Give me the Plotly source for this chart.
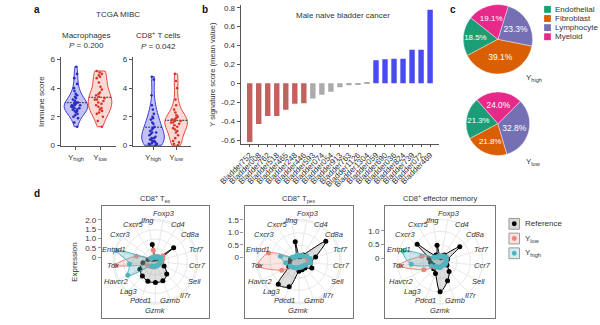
import math
import plotly.graph_objects as go

W, H = 600, 325
def fx(px): return px / W
def fy(py): return 1 - py / H

FONT = "Liberation Sans, Arial, sans-serif"
TXT = "#333333"
AX = "#555555"

# ---------------- panel a data ----------------
groups = ["Y<sub>high</sub>", "Y<sub>low</sub>"]
mac_high = [1.3, 1.6, 1.9, 2.0, 2.1, 2.2, 2.3, 2.4, 2.4, 2.5, 2.5, 2.6, 2.6, 2.7, 2.7, 2.8, 2.8,
            2.8, 2.9, 2.9, 3.0, 3.0, 3.1, 3.2, 3.3, 3.4, 3.5, 3.6, 3.8, 4.0, 4.3, 4.7, 5.0, 5.5]
mac_low = [1.3, 1.7, 2.0, 2.2, 2.3, 2.4, 2.5, 2.6, 2.7, 2.8, 2.9, 3.0, 3.1, 3.2, 3.2, 3.3, 3.4,
           3.5, 3.6, 3.7, 3.9, 4.1, 4.4, 4.7, 4.8, 4.9, 5.0, 5.1, 5.2]
cd8_high = [0.0, 0.05, 0.1, 0.1, 0.15, 0.2, 0.25, 0.3, 0.35, 0.4, 0.5, 0.5, 0.6, 0.7, 0.8, 0.9,
            0.9, 1.0, 1.1, 1.2, 1.3, 1.5, 1.6, 1.8, 1.9, 2.0, 2.2, 2.5, 2.8, 3.5, 4.6, 4.8]
cd8_low = [0.0, 0.1, 0.2, 0.3, 0.5, 0.7, 0.9, 1.0, 1.1, 1.2, 1.3, 1.4, 1.5, 1.6, 1.6, 1.7, 1.7,
           1.8, 1.8, 1.9, 2.0, 2.1, 2.3, 2.5, 2.8, 3.2, 4.0, 4.5, 5.0]
immune_ticks = [0, 2, 4, 6]

# ---------------- panel b data ----------------
samples = ["Bladder752", "Bladder008", "Bladder762", "Bladder518", "Bladder465", "Bladder248",
           "Bladder446", "Bladder593", "Bladder074", "Bladder054", "Bladder913", "Bladder763",
           "Bladder1126", "Bladder1304", "Bladder059", "Bladder690", "Bladder036", "Bladder824",
           "Bladder739", "Bladder072", "Bladder469"]
y_scores = [-0.62, -0.43, -0.345, -0.345, -0.28, -0.215, -0.21, -0.16, -0.12, -0.09, -0.04,
            -0.02, -0.01, 0.005, 0.245, 0.255, 0.26, 0.26, 0.355, 0.355, 0.78]
sample_group = ["low"] * 7 + ["mid"] * 7 + ["high"] * 7
score_ticks = [-0.6, -0.4, -0.2, 0, 0.2, 0.4, 0.6, 0.8]

# ---------------- panel c data ----------------
cell_types = ["Endothelial", "Fibroblast", "Lymphocyte", "Myeloid"]
pie_high = [18.5, 39.1, 23.3, 19.1]
pie_low = [21.3, 21.8, 32.8, 24.0]
pie_colors = ["#1b9e77", "#d95f02", "#7570b3", "#e7298a"]

# ---------------- panel d data ----------------
genes = ["Foxp3", "Cd4", "Cd8a", "Tcf7", "Ccr7", "Sell", "Il7r", "Gzmb", "Gzmk", "Pdcd1",
         "Lag3", "Havcr2", "Tox", "Entpd1", "Cxcr3", "Cxcr5", "Ifng"]
tex_ref = [-0.08, -0.03, 1.01, 0.02, 0.08, 0.29, 0.68, 0.89, 0.90, 0.91, 0.82, 0.71, 0.45, 0.18, -0.03, -0.08, 0.71]
tex_low = [0.02, 0.08, 0.29, 0.18, 0.08, 0.02, 0.0, 0.0, 0.02, 0.08, 0.13, 0.24, 1.98, 0.85, 0.08, 0.02, 0.39]
tex_high = [0.02, 0.05, 0.13, 0.05, 0.02, 0.0, 0.0, 0.0, 0.02, 0.05, 0.08, 1.45, 1.19, 1.98, 0.05, 0.02, 0.05]
tpex_ref = [0.02, 0.14, 1.20, 0.53, 0.30, 0.41, 0.18, 0.18, 0.22, 0.93, 1.08, 0.29, 0.22, 0.18, 0.10, 0.06, 0.65]
tpex_low = [0.06, 0.10, 0.14, 0.18, 0.22, 0.10, 0.06, 0.06, 0.06, 0.10, 0.14, 0.61, 1.50, 1.12, 0.10, 0.06, 0.10]
tpex_high = [0.06, 0.10, 0.22, 0.30, 0.30, 0.14, 0.06, 0.06, 0.06, 0.10, 0.14, 0.22, 0.37, 0.61, 0.14, 0.06, 0.10]
em_ref = [0.02, 0.16, 0.79, 0.16, 0.09, 0.16, 0.37, 0.64, 0.99, 0.35, 0.23, 0.16, 0.23, 0.30, 0.94, 0.16, 0.49]
em_low = [0.09, 0.09, 0.16, 0.09, 0.09, 0.05, 0.05, 0.05, 0.09, 0.09, 0.16, 0.55, 1.40, 0.59, 0.09, 0.05, 0.09]
em_high = [0.09, 0.12, 0.16, 0.12, 0.09, 0.09, 0.05, 0.05, 0.09, 0.09, 0.12, 0.23, 0.95, 1.30, 0.16, 0.09, 0.09]
expr_ticks = [0, 0.5, 1.0, 1.5, 2.0]

fig = go.Figure()

# ---------------- panel a ----------------
vstyle = {
    "high": dict(line="#3b3bd6", fill="rgba(120,120,240,0.45)", pt="#2a2ac0"),
    "low": dict(line="#e2493e", fill="rgba(246,172,162,0.45)", pt="#d9342a"),
}
for (vals, g, key, xa, ya) in [
    (mac_high, groups[0], "high", "x", "y"), (mac_low, groups[1], "low", "x", "y"),
    (cd8_high, groups[0], "high", "x2", "y2"), (cd8_low, groups[1], "low", "x2", "y2")]:
    st = vstyle[key]
    fig.add_trace(go.Violin(
        x=[g] * len(vals), y=vals, xaxis=xa, yaxis=ya, showlegend=False,
        line=dict(color=st["line"], width=1), fillcolor=st["fill"],
        points="all", pointpos=0, jitter=0.45, marker=dict(color=st["pt"], size=2.6),
        meanline=dict(visible=True, color="#333333", width=1), spanmode="hard",
        width=0.98, scalemode="width", hoverinfo="skip"))

# ---------------- panel b ----------------
bar_cols = {"low": "#c2625f", "mid": "#ababab", "high": "#4a4af2"}
fig.add_trace(go.Bar(x=samples, y=y_scores, xaxis="x3", yaxis="y3", showlegend=False,
                     marker=dict(color=[bar_cols[g] for g in sample_group], line=dict(width=0)),
                     width=0.6))

# ---------------- panel c ----------------
for vals, dom in [(pie_high, dict(x=[fx(458), fx(530)], y=[fy(74), fy(2)])),
                  (pie_low, dict(x=[fx(461), fx(527)], y=[fy(157), fy(91)]))]:
    fig.add_trace(go.Pie(labels=cell_types, values=vals, sort=False, direction="counterclockwise",
                         rotation=242, domain=dom, showlegend=False,
                         marker=dict(colors=pie_colors, line=dict(color="white", width=0.4)),
                         text=[f"{v:.1f}%" for v in vals], textinfo="text",
                         textposition="inside", insidetextorientation="horizontal",
                         textfont=dict(color="white", size=8.5, family=FONT)))

# ---------------- panel d ----------------
series_style = [
    ("Reference", "#000000", "rgba(150,150,150,0.3)", "#d9d9d9"),
    ("Y<sub>low</sub>", "#e8857d", "rgba(240,150,140,0.25)", "#fbe2df"),
    ("Y<sub>high</sub>", "#4fb5c0", "rgba(90,190,200,0.30)", "#d3eef1"),
]
panels = [
    dict(sub="polar", data=[tex_ref, tex_low, tex_high], rmin=-0.24, s=18.94, cx=138.5, box=(83, 194),
         xa="x4", ya="y4", title="CD8<sup>+</sup> T<sub>ex</sub>", ticks=expr_ticks, ytitle="Expression"),
    dict(sub="polar2", data=[tpex_ref, tpex_low, tpex_high], rmin=-0.18, s=25.3, cx=287.5, box=(231, 344),
         xa="x5", ya="y5", title="CD8<sup>+</sup> T<sub>pex</sub>", ticks=expr_ticks[:4], ytitle=""),
    dict(sub="polar3", data=[em_ref, em_low, em_high], rmin=-0.125, s=28.0, cx=434, box=(377, 491),
         xa="x6", ya="y6", title="CD8<sup>+</sup> effector memory", ticks=expr_ticks[:3], ytitle=""),
]
CY, R = 264.5, 44.0
BOX_T, BOX_B = 208, 322
ROT = 90 - 180 / len(genes)
# label distance (px) from the radar centre where the default would crowd
label_radius = {"Foxp3": 50.0, "Ifng": 43.0, "Cxcr5": 44.0, "Cd4": 44.0, "Gzmk": 50.0,
                "Pdcd1": 42.5, "Gzmb": 42.5, "Lag3": 41.0}

def closed(a):
    return list(a) + [a[0]]

annotations = []
def ann(text, x, y, size=8, bold=False, xanchor="center", yanchor="middle"):
    annotations.append(dict(text=("<b>%s</b>" % text) if bold else text, x=fx(x), y=fy(y),
                            xref="paper", yref="paper", showarrow=False, xanchor=xanchor,
                            yanchor=yanchor, font=dict(size=size, color="#111111" if bold else TXT,
                                                       family=FONT)))

layout_extra = {}
for pi, p in enumerate(panels):
    for si, (name, col, fcol, _) in enumerate(series_style):
        fig.add_trace(go.Scatterpolar(
            r=closed(p["data"][si]), theta=closed(genes), subplot=p["sub"],
            mode="lines+markers", fill="toself", fillcolor=fcol,
            line=dict(color=col, width=1, shape="spline"),
            marker=dict(color=col, size=5), name=name, showlegend=False,
            hoverinfo="skip"))
    rmin, s = p["rmin"], p["s"]
    rmax = rmin + R / s
    pol = dict(
        domain=dict(x=[fx(p["cx"] - R), fx(p["cx"] + R)], y=[fy(CY + R), fy(CY - R)]),
        bgcolor="rgba(0,0,0,0)",
        radialaxis=dict(range=[rmin, rmax], tickvals=p["ticks"], showticklabels=False, ticks="",
                        showline=False, gridcolor="#e8e8e8", gridwidth=1),
        angularaxis=dict(rotation=ROT, direction="clockwise", type="category",
                         categoryorder="array", categoryarray=genes, ticks="", showticklabels=False,
                         linecolor="#e8e8e8", gridcolor="#e8e8e8"))
    layout_extra[p["sub"]] = pol
    # gene labels centred on the rim of the radar (ggplot style)
    for gi, gname in enumerate(genes):
        ang = math.radians(90 - ROT + gi * 360 / len(genes))
        rl = label_radius.get(gname, 44.0 + 4.0 * math.cos(ang) ** 2)
        ann("<i>%s</i>" % gname, p["cx"] + rl * math.sin(ang), CY - rl * math.cos(ang), size=7.5)
    # frame + radial scale as a cartesian axis on the left
    fig.add_trace(go.Scatter(x=[], y=[], xaxis=p["xa"], yaxis=p["ya"], showlegend=False))
    xk = "xaxis" + p["xa"][1:]
    yk = "yaxis" + p["ya"][1:]
    ylo = rmin - (BOX_B - CY) / s
    yhi = rmin + (CY - BOX_T) / s
    layout_extra[xk] = dict(domain=[fx(p["box"][0]), fx(p["box"][1])], range=[0, 1], anchor=p["ya"],
                            showline=True, mirror=True, linecolor="#777777", linewidth=1.2,
                            showticklabels=False, ticks="", showgrid=False, zeroline=False)
    ydict = dict(domain=[fy(BOX_B), fy(BOX_T)], range=[ylo, yhi], anchor=p["xa"],
                 showline=True, mirror=True, linecolor="#777777", linewidth=1.2,
                 tickvals=p["ticks"], ticktext=[("0" if t == 0 else f"{t:.1f}") for t in p["ticks"]],
                 ticks="outside", ticklen=3, tickcolor="#999999", showgrid=False,
                 zeroline=False, tickfont=dict(size=8, color=TXT, family=FONT))
    if p["ytitle"]:
        ydict["title"] = dict(text=p["ytitle"], font=dict(size=8, color=TXT, family=FONT), standoff=6)
    layout_extra[yk] = ydict

# ---------------- layout ----------------
axfont = dict(size=8, color=TXT, family=FONT)
common_y = dict(range=[-0.05, 6.15], tickvals=immune_ticks, showline=True, linecolor=AX, linewidth=1,
                ticks="outside", ticklen=3, tickcolor=AX, showgrid=False, zeroline=False, tickfont=axfont)
common_x = dict(type="category", categoryorder="array", categoryarray=groups, showline=True,
                linecolor=AX, linewidth=1, ticks="outside", ticklen=3, tickcolor=AX, showgrid=False,
                zeroline=False, tickfont=axfont)

ann("a", 16, 8, size=10, bold=True)
ann("b", 190, 8, size=10, bold=True)
ann("c", 447, 8, size=10, bold=True)
ann("d", 16, 195, size=10, bold=True)
ann("TCGA MIBC", 100, 13)
ann("Macrophages<br><i>P</i> = 0.200", 66, 39)
ann("CD8<sup>+</sup> T cells<br><i>P</i> = 0.042", 141, 39)
ann("Male naive bladder cancer", 333, 14)
ann("Y<sub>high</sub>", 531, 77)
ann("Y<sub>low</sub>", 531, 163)
for p in panels:
    ann(p["title"], (p["box"][0] + p["box"][1]) / 2, 200, size=7.5)

shapes = []
# legend of panel c
for i, (ct, c) in enumerate(zip(cell_types, pie_colors)):
    yc = 7.5 + i * 9.3
    shapes.append(dict(type="rect", xref="paper", yref="paper", x0=fx(542), x1=fx(549),
                       y0=fy(yc + 3.5), y1=fy(yc - 3.5), fillcolor=c, line=dict(width=0)))
    ann(ct, 551, yc, size=8, xanchor="left")
# legend of panel d
for i, (name, col, fcol, keyfill) in enumerate(series_style):
    yc = 226 + i * 15
    shapes.append(dict(type="rect", xref="paper", yref="paper", x0=fx(505.5), x1=fx(516.5),
                       y0=fy(yc + 5.5), y1=fy(yc - 5.5), fillcolor=keyfill,
                       line=dict(color="#9a9a9a", width=1)))
    shapes.append(dict(type="circle", xref="paper", yref="paper", x0=fx(508.5), x1=fx(513.5),
                       y0=fy(yc + 2.5), y1=fy(yc - 2.5), fillcolor=col, line=dict(width=0)))
    ann(name, 520.5, yc, size=8, xanchor="left")

fig.update_layout(
    width=W, height=H, margin=dict(l=0, r=0, t=0, b=0),
    paper_bgcolor="white", plot_bgcolor="white", showlegend=False,
    font=dict(family=FONT, size=8, color=TXT),
    xaxis=dict(domain=[fx(40), fx(98)], range=[-0.64, 1.68], anchor="y", **common_x),
    yaxis=dict(domain=[fy(146.7), fy(56.5)], anchor="x",
               title=dict(text="Immune score", font=axfont, standoff=4), **common_y),
    xaxis2=dict(domain=[fx(115), fx(175)], range=[-0.875, 1.625], anchor="y2", **common_x),
    yaxis2=dict(domain=[fy(146.7), fy(56.5)], anchor="x2", **common_y),
    xaxis3=dict(domain=[fx(227), fx(433)], range=[-1, 21], anchor="y3", type="category",
                categoryorder="array", categoryarray=samples, tickmode="array", tickvals=samples,
                ticktext=samples, tickangle=-45, showline=True,
                linecolor=AX, linewidth=1, ticks="outside", ticklen=2, tickcolor=AX,
                showgrid=False, zeroline=False, tickfont=dict(size=8, color=TXT, family=FONT)),
    yaxis3=dict(domain=[fy(145), fy(3)], range=[-0.645, 0.83], anchor="x3", tickvals=score_ticks,
                ticktext=[("0" if t == 0 else f"{t:.1f}") for t in score_ticks],
                showline=True, linecolor=AX, linewidth=1, ticks="outside", ticklen=3, tickcolor=AX,
                showgrid=False, zeroline=False, tickfont=axfont,
                title=dict(text="Y signature score (mean value)", font=dict(size=7.5, color=TXT, family=FONT),
                           standoff=4)),
    annotations=annotations, shapes=shapes,
    **layout_extra,
)

fig.write_html("out.html")
